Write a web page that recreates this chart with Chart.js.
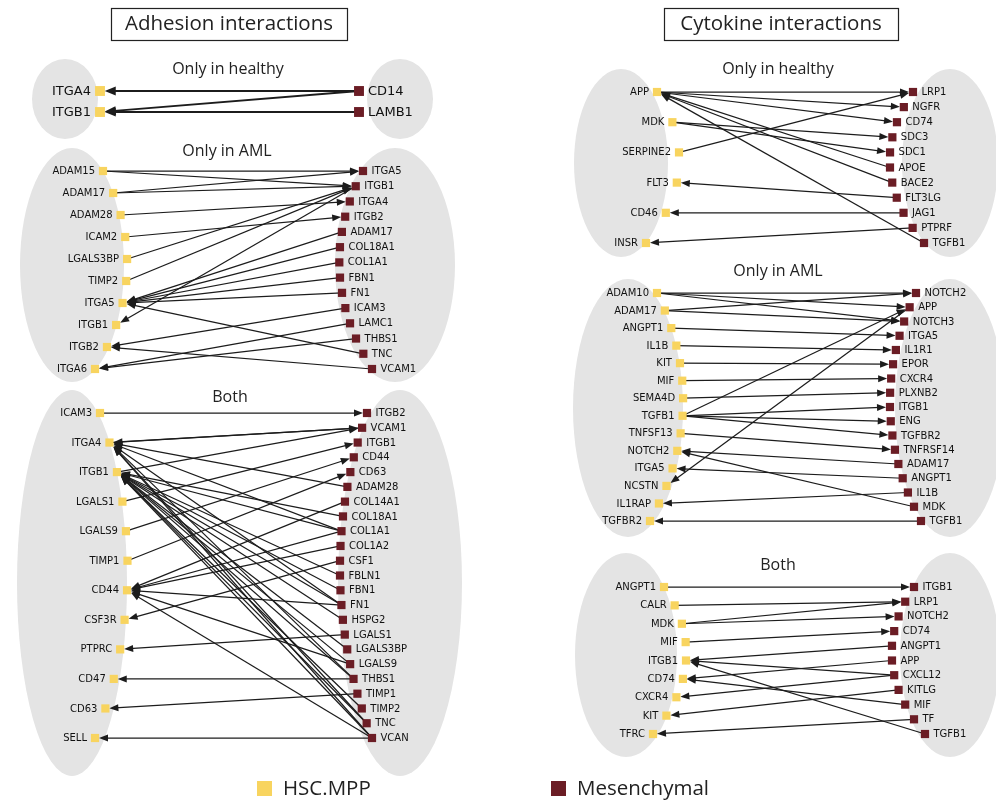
<!DOCTYPE html>
<html>
<head>
<meta charset="utf-8">
<script src="https://cdn.jsdelivr.net/npm/chart.js@4.4.0/dist/chart.umd.min.js"></script>
<style>
  html, body { margin: 0; padding: 0; background: #fff; }
  #wrap { width: 996px; height: 803px; }
</style>
</head>
<body>
<div id="wrap"><canvas id="chart" width="996" height="803"></canvas></div>
<script>
// ---- data: genes per cell type (HSC.MPP left, Mesenchymal right) and interactions ----
// edge = [source side, source gene, target gene]; 'L' = HSC.MPP -> Mesenchymal, 'R' = Mesenchymal -> HSC.MPP

const adhHealthyLeft = ['ITGA4', 'ITGB1'];
const adhHealthyRight = ['CD14', 'LAMB1'];
const adhHealthyEdges = [['R', 'CD14', 'ITGA4'], ['R', 'CD14', 'ITGB1'], ['R', 'LAMB1', 'ITGB1']];

const adhAmlLeft = ['ADAM15', 'ADAM17', 'ADAM28', 'ICAM2', 'LGALS3BP', 'TIMP2', 'ITGA5', 'ITGB1', 'ITGB2', 'ITGA6'];
const adhAmlRight = ['ITGA5', 'ITGB1', 'ITGA4', 'ITGB2', 'ADAM17', 'COL18A1', 'COL1A1', 'FBN1', 'FN1',
  'ICAM3', 'LAMC1', 'THBS1', 'TNC', 'VCAM1'];
const adhAmlEdges = [
  ['L', 'ADAM15', 'ITGA5'], ['L', 'ADAM15', 'ITGB1'], ['L', 'ADAM17', 'ITGA5'], ['L', 'ADAM17', 'ITGB1'],
  ['L', 'ADAM28', 'ITGA4'], ['L', 'ICAM2', 'ITGB2'], ['L', 'LGALS3BP', 'ITGB1'], ['L', 'TIMP2', 'ITGB1'],
  ['R', 'ADAM17', 'ITGA5'], ['R', 'COL18A1', 'ITGA5'], ['R', 'COL1A1', 'ITGA5'], ['R', 'FBN1', 'ITGA5'],
  ['R', 'FN1', 'ITGA5'], ['R', 'TNC', 'ITGA5'], ['R', 'ITGB1', 'ITGB1'], ['R', 'ICAM3', 'ITGB2'],
  ['R', 'VCAM1', 'ITGB2'], ['R', 'LAMC1', 'ITGA6'], ['R', 'THBS1', 'ITGA6']
];

const adhBothLeft = ['ICAM3', 'ITGA4', 'ITGB1', 'LGALS1', 'LGALS9', 'TIMP1', 'CD44', 'CSF3R', 'PTPRC',
  'CD47', 'CD63', 'SELL'];
const adhBothRight = ['ITGB2', 'VCAM1', 'ITGB1', 'CD44', 'CD63', 'ADAM28', 'COL14A1', 'COL18A1', 'COL1A1',
  'COL1A2', 'CSF1', 'FBLN1', 'FBN1', 'FN1', 'HSPG2', 'LGALS1', 'LGALS3BP', 'LGALS9', 'THBS1', 'TIMP1',
  'TIMP2', 'TNC', 'VCAN'];
const adhBothEdges = [
  ['L', 'ICAM3', 'ITGB2'], ['L', 'ITGA4', 'VCAM1'], ['L', 'ITGB1', 'VCAM1'], ['L', 'LGALS1', 'ITGB1'],
  ['L', 'LGALS9', 'CD44'], ['L', 'TIMP1', 'CD63'],
  ['R', 'VCAM1', 'ITGA4'], ['R', 'ADAM28', 'ITGA4'], ['R', 'COL1A1', 'ITGA4'], ['R', 'FN1', 'ITGA4'],
  ['R', 'THBS1', 'ITGA4'], ['R', 'TNC', 'ITGA4'], ['R', 'VCAN', 'ITGA4'],
  ['R', 'COL18A1', 'ITGB1'], ['R', 'COL1A1', 'ITGB1'], ['R', 'FBLN1', 'ITGB1'], ['R', 'FBN1', 'ITGB1'],
  ['R', 'FN1', 'ITGB1'], ['R', 'HSPG2', 'ITGB1'], ['R', 'LGALS3BP', 'ITGB1'], ['R', 'THBS1', 'ITGB1'],
  ['R', 'TIMP2', 'ITGB1'], ['R', 'TNC', 'ITGB1'], ['R', 'VCAN', 'ITGB1'], ['R', 'LGALS9', 'ITGB1'],
  ['R', 'COL14A1', 'CD44'], ['R', 'COL1A1', 'CD44'], ['R', 'COL1A2', 'CD44'], ['R', 'FN1', 'CD44'],
  ['R', 'LGALS9', 'CD44'], ['R', 'VCAN', 'CD44'],
  ['R', 'CSF1', 'CSF3R'], ['R', 'LGALS1', 'PTPRC'], ['R', 'THBS1', 'CD47'], ['R', 'TIMP1', 'CD63'],
  ['R', 'VCAN', 'SELL']
];

const cytHealthyLeft = ['APP', 'MDK', 'SERPINE2', 'FLT3', 'CD46', 'INSR'];
const cytHealthyRight = ['LRP1', 'NGFR', 'CD74', 'SDC3', 'SDC1', 'APOE', 'BACE2', 'FLT3LG', 'JAG1', 'PTPRF', 'TGFB1'];
const cytHealthyEdges = [
  ['L', 'APP', 'LRP1'], ['L', 'APP', 'NGFR'], ['L', 'APP', 'CD74'], ['L', 'MDK', 'SDC3'], ['L', 'MDK', 'SDC1'],
  ['L', 'SERPINE2', 'LRP1'], ['R', 'APOE', 'APP'], ['R', 'BACE2', 'APP'], ['R', 'TGFB1', 'APP'],
  ['R', 'FLT3LG', 'FLT3'], ['R', 'JAG1', 'CD46'], ['R', 'PTPRF', 'INSR']
];

const cytAmlLeft = ['ADAM10', 'ADAM17', 'ANGPT1', 'IL1B', 'KIT', 'MIF', 'SEMA4D', 'TGFB1', 'TNFSF13',
  'NOTCH2', 'ITGA5', 'NCSTN', 'IL1RAP', 'TGFBR2'];
const cytAmlRight = ['NOTCH2', 'APP', 'NOTCH3', 'ITGA5', 'IL1R1', 'EPOR', 'CXCR4', 'PLXNB2', 'ITGB1', 'ENG',
  'TGFBR2', 'TNFRSF14', 'ADAM17', 'ANGPT1', 'IL1B', 'MDK', 'TGFB1'];
const cytAmlEdges = [
  ['L', 'ADAM10', 'NOTCH2'], ['L', 'ADAM10', 'APP'], ['L', 'ADAM10', 'NOTCH3'], ['L', 'ADAM17', 'NOTCH2'],
  ['L', 'ADAM17', 'NOTCH3'], ['L', 'ANGPT1', 'ITGA5'], ['L', 'IL1B', 'IL1R1'], ['L', 'KIT', 'EPOR'],
  ['L', 'MIF', 'CXCR4'], ['L', 'SEMA4D', 'PLXNB2'], ['L', 'TGFB1', 'APP'], ['L', 'TGFB1', 'ITGB1'],
  ['L', 'TGFB1', 'ENG'], ['L', 'TGFB1', 'TGFBR2'], ['L', 'TNFSF13', 'TNFRSF14'],
  ['R', 'APP', 'NCSTN'], ['R', 'ADAM17', 'NOTCH2'], ['R', 'ANGPT1', 'ITGA5'], ['R', 'MDK', 'NOTCH2'],
  ['R', 'IL1B', 'IL1RAP'], ['R', 'TGFB1', 'TGFBR2']
];

const cytBothLeft = ['ANGPT1', 'CALR', 'MDK', 'MIF', 'ITGB1', 'CD74', 'CXCR4', 'KIT', 'TFRC'];
const cytBothRight = ['ITGB1', 'LRP1', 'NOTCH2', 'CD74', 'ANGPT1', 'APP', 'CXCL12', 'KITLG', 'MIF', 'TF', 'TGFB1'];
const cytBothEdges = [
  ['L', 'ANGPT1', 'ITGB1'], ['L', 'CALR', 'LRP1'], ['L', 'MDK', 'LRP1'], ['L', 'MDK', 'NOTCH2'],
  ['L', 'MIF', 'CD74'], ['R', 'ANGPT1', 'ITGB1'], ['R', 'CXCL12', 'ITGB1'], ['R', 'TGFB1', 'ITGB1'],
  ['R', 'APP', 'CD74'], ['R', 'MIF', 'CD74'], ['R', 'CXCL12', 'CXCR4'], ['R', 'KITLG', 'KIT'], ['R', 'TF', 'TFRC']
];

const panelTitles = ['Adhesion interactions', 'Cytokine interactions'];
const legendLabels = ['HSC.MPP', 'Mesenchymal'];

// ---- layout & style (not data) ----
const hscColor = '#f8d45f';
const mesColor = '#6b1d25';
const blobColor = '#e4e4e4';
const edgeColor = '#1c1c1c';

// node columns follow an arc: x = xe + tilt*u + bulge*(1-u^2), u in [-1,1] from top to bottom
const panels = [
  { title: 'Only in healthy', tx: 228, ty: 69, big: true,
    L: adhHealthyLeft, R: adhHealthyRight, E: adhHealthyEdges,
    layL: [91, 112, 100, 0, 0], layR: [91, 112, 359, 0, 0],
    ellL: [65, 99, 33, 40], ellR: [400, 99, 33, 40] },
  { title: 'Only in AML', tx: 227, ty: 151,
    L: adhAmlLeft, R: adhAmlRight, E: adhAmlEdges,
    layL: [171, 369, 99, -4, 28], layR: [171, 369, 367.5, 4.5, -28],
    ellL: [72, 265, 52, 117], ellR: [395, 265, 60, 117] },
  { title: 'Both', tx: 230, ty: 397,
    L: adhBothLeft, R: adhBothRight, E: adhBothEdges,
    layL: [413, 738, 97.5, -2.5, 30], layR: [413, 738, 369.5, 2.5, -29.5],
    ellL: [72, 583, 55, 193], ellR: [400, 583, 62, 193] },
  { title: 'Only in healthy', tx: 778, ty: 69,
    L: cytHealthyLeft, R: cytHealthyRight, E: cytHealthyEdges,
    layL: [92, 243, 651.5, -5.5, 27.5], layR: [92, 243, 918.5, 5.5, -28.5],
    ellL: [621, 163, 47, 94], ellR: [950, 163, 48, 94] },
  { title: 'Only in AML', tx: 778, ty: 271,
    L: cytAmlLeft, R: cytAmlRight, E: cytAmlEdges,
    layL: [293, 521, 653.5, -3.5, 29.5], layR: [293, 521, 918.5, 2.5, -28.5],
    ellL: [628, 408, 55, 129], ellR: [950, 408, 55, 129] },
  { title: 'Both', tx: 778, ty: 565,
    L: cytBothLeft, R: cytBothRight, E: cytBothEdges,
    layL: [587, 734, 658.5, -5.5, 27.5], layR: [587, 734, 919.5, 5.5, -27.5],
    ellL: [626, 655, 51, 102], ellR: [950, 655, 50, 102] }
];

function arcPos(lay, i, n) {
  const [y0, y1, xe, tilt, bulge] = lay;
  const t = n > 1 ? i / (n - 1) : 0.5;
  const u = 2 * t - 1;
  return { x: xe + tilt * u + bulge * (1 - u * u), y: y0 + (y1 - y0) * t };
}

const leftPoints = [], rightPoints = [];
panels.forEach(p => {
  p.posL = {}; p.posR = {};
  p.L.forEach((g, i) => { const q = arcPos(p.layL, i, p.L.length); p.posL[g] = q; leftPoints.push({ x: q.x, y: q.y, big: !!p.big, label: g }); });
  p.R.forEach((g, i) => { const q = arcPos(p.layR, i, p.R.length); p.posR[g] = q; rightPoints.push({ x: q.x, y: q.y, big: !!p.big, label: g }); });
});

const netPlugin = {
  id: 'net',
  beforeDatasetsDraw(chart) {
    const { ctx, scales: { x, y } } = chart;
    const px = v => x.getPixelForValue(v), py = v => y.getPixelForValue(v);
    ctx.save();
    // grey blobs
    ctx.fillStyle = blobColor;
    panels.forEach(p => {
      [p.ellL, p.ellR].forEach(e => {
        ctx.beginPath();
        ctx.ellipse(px(e[0]), py(e[1]), Math.abs(px(e[0] + e[2]) - px(e[0])), Math.abs(py(e[1] + e[3]) - py(e[1])), 0, 0, Math.PI * 2);
        ctx.fill();
      });
    });
    // edges with arrowheads
    panels.forEach(p => {
      const half = p.big ? 5 : 4.2;
      const aLen = p.big ? 11 : 9, aW = p.big ? 9 : 7;
      ctx.lineWidth = p.big ? 1.8 : 1.25;
      ctx.strokeStyle = edgeColor;
      ctx.fillStyle = edgeColor;
      p.E.forEach(([side, from, to]) => {
        const s = side === 'L' ? p.posL[from] : p.posR[from];
        const t = side === 'L' ? p.posR[to] : p.posL[to];
        const sx = px(s.x), sy = py(s.y), tx = px(t.x), ty = py(t.y);
        const dx = tx - sx, dy = ty - sy, len = Math.hypot(dx, dy);
        const ux = dx / len, uy = dy / len;
        const gap = half / Math.max(Math.abs(ux), 0.3) * 0.95;
        const tipX = tx - ux * gap, tipY = ty - uy * gap;
        ctx.beginPath();
        ctx.moveTo(sx, sy);
        ctx.lineTo(tipX - ux * aLen * 0.6, tipY - uy * aLen * 0.6);
        ctx.stroke();
        const bx = tipX - ux * aLen, by = tipY - uy * aLen;
        ctx.beginPath();
        ctx.moveTo(tipX, tipY);
        ctx.lineTo(bx - uy * aW / 2, by + ux * aW / 2);
        ctx.lineTo(bx + uy * aW / 2, by - ux * aW / 2);
        ctx.closePath();
        ctx.fill();
      });
    });
    ctx.restore();
  },
  afterDatasetsDraw(chart) {
    const { ctx, scales: { x, y } } = chart;
    const px = v => x.getPixelForValue(v), py = v => y.getPixelForValue(v);
    ctx.save();
    ctx.fillStyle = '#111';
    ctx.textBaseline = 'middle';
    // gene labels
    leftPoints.forEach(d => {
      ctx.font = d.big ? '13px "DejaVu Sans"' : '10px "DejaVu Sans"';
      ctx.textAlign = 'right';
      ctx.fillText(d.label, px(d.x) - (d.big ? 9 : 8), py(d.y) + 0.5);
    });
    rightPoints.forEach(d => {
      ctx.font = d.big ? '13px "DejaVu Sans"' : '10px "DejaVu Sans"';
      ctx.textAlign = 'left';
      ctx.fillText(d.label, px(d.x) + (d.big ? 9 : 8.5), py(d.y) + 0.5);
    });
    // panel sub titles
    ctx.fillStyle = '#222';
    ctx.textAlign = 'center';
    ctx.font = '16px "Open Sans"';
    panels.forEach(p => ctx.fillText(p.title, px(p.tx), py(p.ty)));
    // boxed headers
    const boxes = [[111, 347], [664, 898]];
    ctx.font = '20.5px "Open Sans"';
    ctx.strokeStyle = '#222';
    ctx.lineWidth = 1.2;
    boxes.forEach((b, i) => {
      ctx.strokeRect(px(b[0]) + 0.5, py(8) + 0.5, px(b[1]) - px(b[0]), py(40) - py(8));
      ctx.fillText(panelTitles[i], px((b[0] + b[1]) / 2), py(24.5));
    });
    // legend
    const leg = [[257, hscColor], [551, mesColor]];
    ctx.textAlign = 'left';
    ctx.font = '20.5px "Open Sans"';
    leg.forEach((l, i) => {
      ctx.fillStyle = l[1];
      ctx.fillRect(px(l[0]), py(781), 15, 15);
      ctx.fillStyle = '#222';
      ctx.fillText(legendLabels[i], px(l[0]) + 26, py(789));
    });
    ctx.restore();
  }
};

const ctx = document.getElementById('chart').getContext('2d');
new Chart(ctx, {
  type: 'scatter',
  data: {
    datasets: [
      { label: 'HSC.MPP', data: leftPoints, backgroundColor: hscColor, borderWidth: 0,
        pointStyle: 'rect', pointRadius: c => (c.raw && c.raw.big ? 7 : 5.8) },
      { label: 'Mesenchymal', data: rightPoints, backgroundColor: mesColor, borderWidth: 0,
        pointStyle: 'rect', pointRadius: c => (c.raw && c.raw.big ? 7 : 5.8) }
    ]
  },
  options: {
    responsive: false,
    animation: false,
    layout: { padding: 0, autoPadding: false },
    scales: {
      x: { type: 'linear', min: 0, max: 996, display: false },
      y: { type: 'linear', min: 0, max: 803, reverse: true, display: false }
    },
    plugins: { legend: { display: false }, tooltip: { enabled: false } }
  },
  plugins: [netPlugin]
});
</script>
</body>
</html>
